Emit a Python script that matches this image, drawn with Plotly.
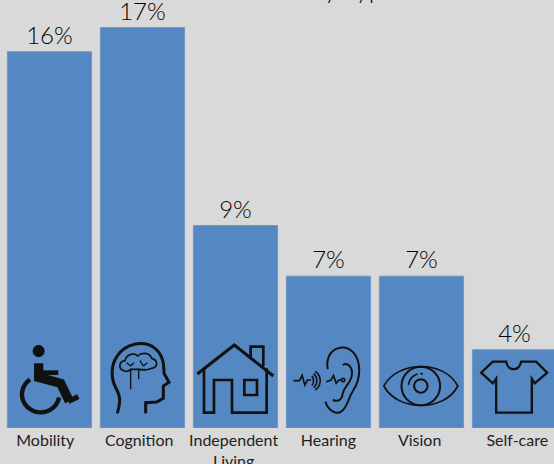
import math
import re
import plotly.graph_objects as go

categories = ["Mobility", "Cognition", "Independent<br>Living", "Hearing", "Vision", "Self-care"]
values = [16.35, 17.4, 8.8, 6.6, 6.6, 3.4]
value_labels = ["16%", "17%", "9%", "7%", "7%", "4%"]
title_text = "Disabilities by Type"
tick_nudge = [-0.045, -0.035, -0.02, 0.0, -0.02, 0.03]

positions = list(range(len(categories)))
INK = "#111111"


def arc(cx, cy, rx, ry, a0, a1, start="M", n=36):
    pts = []
    for i in range(n + 1):
        a = math.radians(a0 + (a1 - a0) * i / n)
        cmd = start if i == 0 else "L"
        pts.append(f"{cmd}{cx + rx * math.cos(a):.1f} {cy + ry * math.sin(a):.1f}")
    return " ".join(pts)


def local(path, ox, oy):
    """Zoom-crop sketch units (3 per px, y down) to pixels around an anchor (y up)."""
    out, is_x = [], True
    for tok in re.findall(r"[A-Za-z]|-?\d+\.?\d*", path):
        if tok.isalpha():
            out.append(tok)
            is_x = True
        else:
            v = float(tok)
            out.append(f"{(v - ox) / 3:.2f}" if is_x else f"{(oy - v) / 3:.2f}")
            is_x = not is_x
    return " ".join(out)


B2 = 294  # baseline in the sketch units
icons = [
    # wheelchair
    (0, 148.5, [
        (arc(116, 63, 18, 18, 0, 360) + " Z", INK, 0),
        ("M116 100 L116 142 L182 160 L208 214", None, 28),
        ("M116 128 L175 128", None, 14),
        ("M205 214 L235 200", None, 16),
        (arc(122, 193, 56, 54, 10, 235), None, 13),
    ]),
    # head with brain
    (1, 427.5, [
        ("M352 250 C362 215 362 200 348 175 C332 145 332 105 352 78 C375 42 430 28 465 55 "
         "C490 75 492 105 492 130 L507 157 L490 168 L490 205 L470 216 L437 218 L437 250", None, 9),
        ("M392 178 L392 118 M416 148 L416 118 L436 118 M392 108 L380 98 M392 108 L402 98 "
         "M430 108 L420 92 M430 108 L442 98", None, 4),
        ("M372 122 C355 118 355 95 375 92 C380 70 405 68 413 78 C425 65 450 68 455 85 "
         "C475 90 475 112 455 115 C440 122 425 120 416 118 L392 118 C385 125 378 125 372 122 Z", None, 5),
    ]),
    # house
    (2, 706.5, [
        ("M592 132 L703 45 L820 138", None, 9),
        ("M612 115 L612 248 L642 248 L642 150 L696 150 L696 248 L800 248 L800 115", None, 8),
        ("M733 150 L771 150 L771 195 L733 195 Z", None, 8),
        ("M752 80 L752 50 L790 50 L790 108", None, 8),
    ]),
    # ear and sound (third crop: origin x 280)
    (3, 147, [
        ("M138 215 C145 240 170 255 185 245 C205 232 205 205 222 180 C245 145 245 95 222 68 "
         "C200 42 160 50 148 80 C142 95 142 105 145 118", None, 6),
        ("M190 105 C205 95 220 112 217 135 C215 160 195 165 190 190 C188 205 180 218 160 210", None, 6),
        ("M42 152 L60 152 L68 136 L76 165 L84 150 L95 150", None, 5),
        (arc(92, 152, 10, 16, -60, 60), None, 5),
        (arc(92, 152, 20, 24, -60, 60), None, 5),
        (arc(92, 152, 30, 32, -60, 60), None, 5),
        ("M140 155 L155 150 L162 136 L170 160 L178 150 L186 150", None, 5),
        (arc(191, 150, 5, 5, 0, 360), None, 5),
    ]),
    # eye
    (4, 426, [
        ("M313 168 C355 90 495 90 535 168 C495 246 355 246 313 168 Z", None, 5),
        (arc(424, 168, 58, 58, 0, 360), None, 6),
        (arc(424, 168, 20, 20, 0, 360), None, 6),
        (arc(424, 168, 37, 37, 185, 255, n=10), None, 5),
        (arc(424, 168, 37, 37, 268, 280, n=3), None, 5),
    ]),
    # shirt
    (5, 705, [
        ("M640 95 L680 95 C685 125 720 125 725 95 L770 95 L803 128 L766 160 L757 146 L757 248 "
         "L650 248 L650 146 L640 160 L605 128 Z", None, 7),
    ]),
]

shapes = []
for idx, cx, parts in icons:
    for path, fill, w in parts:
        shapes.append(dict(
            type="path", layer="above", xref="x", yref="y",
            xsizemode="pixel", ysizemode="pixel", xanchor=idx, yanchor=0,
            path=local(path, cx, B2),
            fillcolor=fill if fill else "rgba(0,0,0,0)",
            line=dict(color=INK, width=w / 3),
        ))

fig = go.Figure(go.Bar(
    x=positions, y=values, width=0.905,
    marker=dict(color="#5588c3", line=dict(color="#6c98c9", width=1)),
    text=value_labels, textposition="outside", cliponaxis=False,
    textfont=dict(family="Lato", size=24, weight=300, color="#000000"),
    hoverinfo="skip",
))

fig.add_annotation(
    x=399 / 554, xref="paper", y=1, yref="paper", text=title_text, showarrow=False,
    xanchor="right", yanchor="bottom", yshift=-6,
    font=dict(family="Lato", size=26, weight=300, color="#000000"),
)

fig.update_layout(
    width=554, height=464, margin=dict(l=0, r=0, t=0, b=36),
    paper_bgcolor="#d9d9d9", plot_bgcolor="#d9d9d9",
    showlegend=False, shapes=shapes,
    xaxis=dict(
        range=[-0.532, 5.425], showgrid=False, zeroline=False, showline=False, ticks="",
        tickmode="array", tickvals=[p + n for p, n in zip(positions, tick_nudge)], ticktext=categories,
        tickangle=0, ticklabelstandoff=1, automargin=False,
        tickfont=dict(family="Lato", size=16, color="#222222"),
    ),
    yaxis=dict(range=[0, 18.6], visible=False),
)

fig.write_html(
    "out.html",
    config=dict(displayModeBar=False),
    post_script="document.body.style.margin='0';document.body.style.background='#d9d9d9';",
)
